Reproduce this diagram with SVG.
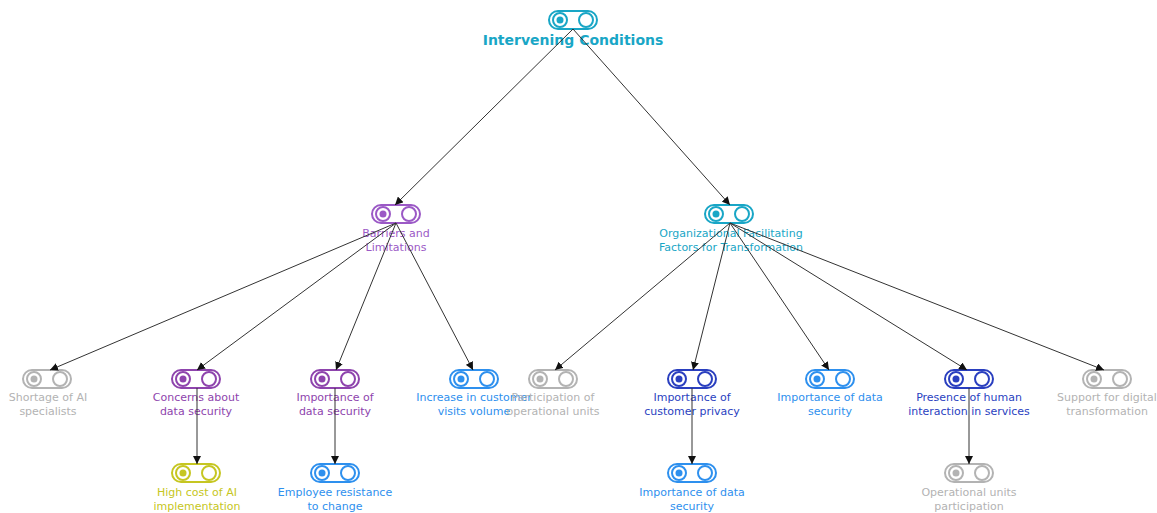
<svg xmlns="http://www.w3.org/2000/svg" width="1157" height="513" viewBox="0 0 1157 513">
<style>
.pill{fill:#fff;stroke-width:2}
.c{fill:none;stroke-width:2}
.lbl{font-family:"DejaVu Sans",sans-serif;font-size:11px;text-anchor:middle}
.root{font-family:"DejaVu Sans",sans-serif;font-size:14px;font-weight:bold;text-anchor:middle}
.edge{stroke:#333;stroke-width:1;fill:none;marker-end:url(#arr)}
.teal{stroke:#19a6c6;fill:#19a6c6}
.purple{stroke:#8e44ad;fill:#8e44ad}
.lpurple{stroke:#9b59c6;fill:#9b59c6}
.gray{stroke:#b3b3b3;fill:#b3b3b3}
.blue{stroke:#2e90ee;fill:#2e90ee}
.dblue{stroke:#2a3fbf;fill:#2a3fbf}
.yellow{stroke:#c6c622;fill:#c6c622}
text{stroke:none}
</style>
<defs>
<marker id="arr" viewBox="0 0 10 10" refX="10" refY="5" markerWidth="8" markerHeight="8" markerUnits="userSpaceOnUse" orient="auto">
<path d="M0,0 L10,5 L0,10 z" fill="#111"/>
</marker>
<g id="icon">
<rect class="pill" x="-24" y="-9" width="48" height="18" rx="9" style="fill:#fff"/>
<circle class="c" cx="-13" cy="0" r="7" style="fill:#fff"/>
<circle class="c" cx="13" cy="0" r="7" style="fill:#fff"/>
<circle cx="-13" cy="0" r="3.5" style="stroke:none"/>
</g>
</defs>
<rect width="1157" height="513" fill="#fff"/>

<g id="node-root" class="teal"><use href="#icon" x="573" y="20"/><text class="root" x="573" y="45">Intervening Conditions</text></g>

<g id="node-barriers" class="lpurple"><use href="#icon" x="396" y="214"/><text class="lbl" x="396" y="237">Barriers and</text><text class="lbl" x="396" y="251">Limitations</text></g>
<g id="node-org" class="teal"><use href="#icon" x="729" y="214"/><text class="lbl" x="731" y="237">Organizational Facilitating</text><text class="lbl" x="731" y="251">Factors for Transformation</text></g>

<g id="node-shortage" class="gray"><use href="#icon" x="47" y="379"/><text class="lbl" x="48" y="401">Shortage of AI</text><text class="lbl" x="48" y="415">specialists</text></g>
<g id="node-concerns" class="purple"><use href="#icon" x="196" y="379"/><text class="lbl" x="196" y="401">Concerns about</text><text class="lbl" x="196" y="415">data security</text></g>
<g id="node-imp1" class="purple"><use href="#icon" x="335" y="379"/><text class="lbl" x="335" y="401">Importance of</text><text class="lbl" x="335" y="415">data security</text></g>
<g id="node-increase" class="blue"><use href="#icon" x="474" y="379"/><text class="lbl" x="474" y="401">Increase in customer</text><text class="lbl" x="474" y="415">visits volume</text></g>
<g id="node-participation" class="gray"><use href="#icon" x="553" y="379"/><text class="lbl" x="553" y="401">Participation of</text><text class="lbl" x="553" y="415">operational units</text></g>
<g id="node-privacy" class="dblue"><use href="#icon" x="692" y="379"/><text class="lbl" x="692" y="401">Importance of</text><text class="lbl" x="692" y="415">customer privacy</text></g>
<g id="node-datasec2" class="blue"><use href="#icon" x="830" y="379"/><text class="lbl" x="830" y="401">Importance of data</text><text class="lbl" x="830" y="415">security</text></g>
<g id="node-presence" class="dblue"><use href="#icon" x="969" y="379"/><text class="lbl" x="969" y="401">Presence of human</text><text class="lbl" x="969" y="415">interaction in services</text></g>
<g id="node-support" class="gray"><use href="#icon" x="1107" y="379"/><text class="lbl" x="1107" y="401">Support for digital</text><text class="lbl" x="1107" y="415">transformation</text></g>

<g id="node-highcost" class="yellow"><use href="#icon" x="196" y="473"/><text class="lbl" x="197" y="496">High cost of AI</text><text class="lbl" x="197" y="510">implementation</text></g>
<g id="node-resistance" class="blue"><use href="#icon" x="335" y="473"/><text class="lbl" x="335" y="496">Employee resistance</text><text class="lbl" x="335" y="510">to change</text></g>
<g id="node-datasec3" class="blue"><use href="#icon" x="692" y="473"/><text class="lbl" x="692" y="496">Importance of data</text><text class="lbl" x="692" y="510">security</text></g>
<g id="node-opunits" class="gray"><use href="#icon" x="969" y="473"/><text class="lbl" x="969" y="496">Operational units</text><text class="lbl" x="969" y="510">participation</text></g>

<g id="connectors">
<line class="edge" x1="573" y1="29" x2="395" y2="205"/>
<line class="edge" x1="573" y1="29" x2="730" y2="205"/>
<line class="edge" x1="396" y1="223" x2="50" y2="370"/>
<line class="edge" x1="396" y1="223" x2="197" y2="370"/>
<line class="edge" x1="396" y1="223" x2="336" y2="370"/>
<line class="edge" x1="396" y1="223" x2="473" y2="370"/>
<line class="edge" x1="730" y1="223" x2="555" y2="370"/>
<line class="edge" x1="730" y1="223" x2="693" y2="370"/>
<line class="edge" x1="730" y1="223" x2="829" y2="370"/>
<line class="edge" x1="730" y1="223" x2="967" y2="370"/>
<line class="edge" x1="730" y1="223" x2="1104" y2="370"/>
<line class="edge" x1="197" y1="388" x2="197" y2="464"/>
<line class="edge" x1="335" y1="388" x2="335" y2="464"/>
<line class="edge" x1="692" y1="388" x2="692" y2="464"/>
<line class="edge" x1="969" y1="388" x2="969" y2="464"/>
</g>
</svg>
